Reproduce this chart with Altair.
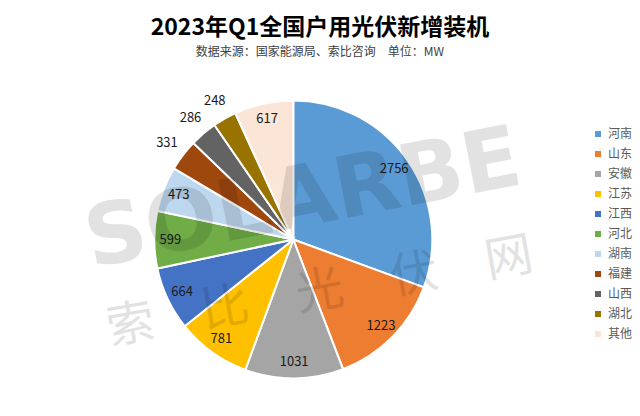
import altair as alt
import pandas as pd

regions = ["河南", "山东", "安徽", "江苏", "江西", "河北", "湖南", "福建", "山西", "湖北", "其他"]
values = [2756, 1223, 1031, 781, 664, 599, 473, 331, 286, 248, 617]
colors = ["#5B9BD5", "#ED7D31", "#A5A5A5", "#FFC000", "#4472C4", "#70AD47",
          "#BDD7EE", "#9E480E", "#636363", "#997300", "#FBE5D6"]
title_text = "2023年Q1全国户用光伏新增装机"
subtitle_text = "数据来源：国家能源局、索比咨询　单位：MW"
watermark_en = ["SOLARBE"]
watermark_cn = ["索　比　光　伏　网"]

df = pd.DataFrame({"region": regions, "value": values, "idx": list(range(len(regions)))})

FONT = "Noto Sans CJK SC"
CX, CY = 285.3, 171.5

base = alt.Chart(df).encode(
    theta=alt.Theta("value:Q", stack=True),
    order=alt.Order("idx:Q"),
)

pie = base.mark_arc(outerRadius=139, stroke="white", strokeWidth=2, x=CX, y=CY).encode(
    color=alt.Color(
        "region:N",
        scale=alt.Scale(domain=regions, range=colors),
        sort=regions,
        legend=alt.Legend(
            title=None, orient="none", legendX=584, legendY=60,
            symbolType="square", symbolSize=36, symbolStrokeWidth=0,
            labelFont=FONT, labelFontSize=12, labelColor="#595959",
            labelOffset=4, rowPadding=8, padding=0,
        ),
    )
)

inside = base.mark_text(radius=123, x=CX, y=CY, font=FONT, fontSize=13, color="#1a1a1a").encode(
    text=alt.Text("value:Q"),
    opacity=alt.condition("datum.value < 400", alt.value(0), alt.value(1)),
)
outside = base.mark_text(radius=159, x=CX, y=CY, font=FONT, fontSize=13, color="#1a1a1a").encode(
    text=alt.Text("value:Q"),
    opacity=alt.condition("datum.value < 400", alt.value(1), alt.value(0)),
)

wm1 = alt.Chart(pd.DataFrame({"t": watermark_en})).mark_text(
    font="DejaVu Sans", fontWeight="bold", fontSize=85, angle=349,
    color="#000000", opacity=0.11, align="center", baseline="middle",
).encode(text="t:N", x=alt.value(295), y=alt.value(132))

wm2 = alt.Chart(pd.DataFrame({"t": watermark_cn})).mark_text(
    font=FONT, fontSize=48, angle=350,
    color="#000000", opacity=0.11, align="center", baseline="middle",
).encode(text="t:N", x=alt.value(312), y=alt.value(225))

chart = alt.layer(pie, inside, outside, wm1, wm2).properties(
    width=624, height=340,
    title=alt.Title(
        title_text, subtitle=subtitle_text, anchor="middle",
        font=FONT, fontSize=23, fontWeight="bold", color="#000000",
        subtitleFont=FONT, subtitleFontSize=12, subtitleColor="#404040",
        offset=10, subtitlePadding=7,
    ),
    autosize=alt.AutoSizeParams(type="none"),
    padding={"left": 0, "top": 60, "right": 0, "bottom": 0},
).configure_view(stroke=None)

chart.save("out.html", embed_options={"renderer": "svg", "actions": False})
